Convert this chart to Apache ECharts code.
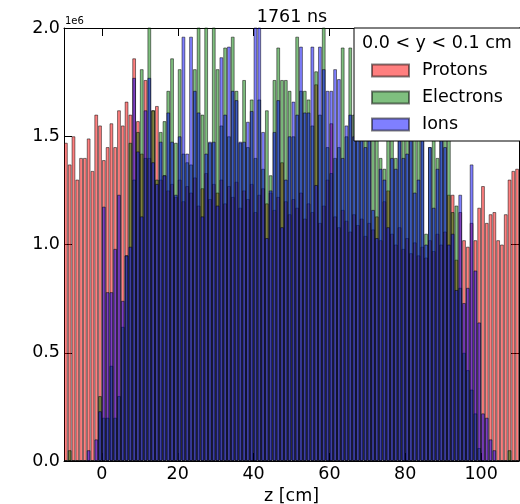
<!DOCTYPE html>
<html><head><meta charset="utf-8">
<script src="https://cdn.jsdelivr.net/npm/echarts@6/dist/echarts.min.js"></script>
<style>html,body{margin:0;padding:0;background:#fff}#c{width:520px;height:504px}</style>
</head><body><div id="c"></div>
<script>
// Histogram bins: 1 cm wide, from -10 to 110 cm (values in units of 1e6)
const binStart = -10, binWidth = 1, binCount = 120;
const xTicks = [0, 20, 40, 60, 80, 100];
const yTicks = [0, 0.5, 1.0, 1.5, 2.0];
const seriesNames = ['Protons', 'Electrons', 'Ions'];

const protons = [
 1.47,1.37,1.50,1.30,1.40,1.40,1.49,1.34,1.60,1.55,
 1.39,1.45,1.56,1.45,1.62,1.55,1.66,1.60,1.86,1.57,
 1.42,1.76,1.40,1.62,1.64,1.30,1.32,1.25,1.28,1.22,
 1.30,1.20,1.27,1.24,1.31,1.18,1.26,1.33,1.21,1.28,
 1.24,1.30,1.19,1.27,1.22,1.29,1.17,1.25,1.21,1.28,
 1.15,1.23,1.26,1.19,1.24,1.16,1.22,1.38,1.20,1.14,
 1.21,1.17,1.24,1.12,1.19,1.15,1.74,1.10,1.18,1.30,
 1.56,1.13,1.08,1.16,1.11,1.06,1.14,1.09,1.12,1.04,
 1.10,1.07,1.13,1.02,1.20,1.25,1.05,1.00,1.08,0.98,
 1.03,0.96,1.01,0.95,0.99,0.94,1.02,0.97,1.05,1.00,
 1.06,1.23,1.23,0.93,1.15,1.02,0.99,1.10,1.02,1.17,
 1.27,1.10,1.14,1.15,1.02,1.00,1.14,1.30,1.34,1.35
];
const electrons = [
 0,0.05,0,0,0,0,0,0,0,0.30,
 0.20,0.20,0.44,0.20,0.30,0.62,0.95,1.47,1.30,1.52,
 1.81,1.40,2.05,1.62,1.30,1.52,1.57,1.71,1.86,1.47,
 1.81,1.42,1.38,1.37,1.81,2.05,1.60,2.05,1.47,2.05,
 1.81,1.55,1.91,1.50,1.96,1.71,1.47,1.76,1.45,1.67,
 1.40,1.67,1.35,1.62,1.32,1.76,1.91,1.76,1.76,1.71,
 1.50,1.96,1.71,1.71,1.67,1.55,1.80,1.60,2.05,1.45,
 1.33,1.40,1.45,1.91,1.50,1.91,1.60,1.70,1.55,1.65,
 1.55,1.60,1.52,1.40,1.35,1.55,1.50,1.40,1.65,1.60,
 1.75,1.62,1.70,1.55,1.50,1.05,1.45,1.70,1.40,1.60,
 1.55,1.65,1.15,1.18,0.80,0.50,0.42,0.33,0.22,0.06,
 0,0,0,0,0,0,0,0.05,0,0
];
const ions = [
 0,0,0,0,0,0,0.05,0,0.10,0.23,
 1.175,0.78,0.78,0.98,1.23,0.74,0.95,0.99,1.77,1.43,
 1.13,1.62,1.77,1.38,1.28,1.475,1.32,1.61,1.475,1.23,
 1.50,1.96,1.42,1.96,1.71,1.61,1.13,1.42,1.475,1.475,
 1.18,1.865,1.60,1.914,1.71,1.667,1.475,1.475,1.567,1.617,
 2.05,2.05,1.52,1.03,1.25,1.52,1.667,1.08,1.30,1.50,
 1.66,1.60,1.914,1.61,1.61,1.914,1.275,1.914,1.81,1.71,
 1.71,1.81,1.764,1.40,1.55,1.60,1.50,1.60,1.55,1.45,
 1.50,1.16,1.03,1.35,1.30,1.08,1.40,1.35,1.55,1.40,
 1.42,1.50,1.24,1.30,1.55,1.00,1.45,1.17,1.35,1.60,
 1.45,1.00,1.05,0.79,1.23,0.73,0.80,1.37,0.88,0.64,
 0.22,0.20,0.10,0.05,0,0,0,0,0,0
];

const categories = [];
for (let i = 0; i < binCount; i++) categories.push(binStart + binWidth * (i + 0.5));

const FONT = 'DejaVu Sans';
const black = '#000';
const colors = ['rgba(255,0,0,0.5)', 'rgba(0,128,0,0.5)', 'rgba(0,0,255,0.5)'];
const dataSets = [protons, electrons, ions];

const chart = echarts.init(document.getElementById('c'), null, {renderer: 'canvas'});
const valueX = (pos, labels) => ({
  type: 'value', min: binStart, max: binStart + binWidth * binCount, position: pos,
  axisLine: {show: true, onZero: false, lineStyle: {color: black, width: 1}},
  axisTick: {show: true, inside: true, length: 8, customValues: xTicks, lineStyle: {color: black, width: 1}},
  axisLabel: {show: labels, customValues: xTicks, color: black, fontSize: 17.5, fontFamily: FONT, margin: 4},
  splitLine: {show: false},
  name: labels ? 'z [cm]' : '', nameLocation: 'middle', nameGap: 24,
  nameTextStyle: {color: black, fontSize: 17.5, fontFamily: FONT}
});
const valueY = (pos, labels) => ({
  type: 'value', min: yTicks[0], max: yTicks[yTicks.length - 1], interval: 0.5, position: pos,
  axisLine: {show: true, onZero: false, lineStyle: {color: black, width: 1}},
  axisTick: {show: true, inside: true, length: 8, lineStyle: {color: black, width: 1}},
  axisLabel: {show: labels, color: black, fontSize: 17.5, fontFamily: FONT, margin: 4,
              formatter: v => v.toFixed(1)},
  splitLine: {show: false}
});

chart.setOption({
  animation: false,
  backgroundColor: '#fff',
  grid: {left: 64, top: 28, right: 1, bottom: 43, containLabel: false, outerBoundsMode: 'none'},
  xAxis: [
    {type: 'category', data: categories, boundaryGap: true, show: false, position: 'top'},
    valueX('bottom', true),
    valueX('top', false)
  ],
  yAxis: [valueY('left', true), valueY('right', false)],
  legend: {
    orient: 'vertical', left: 354, top: 28,
    padding: [33, 40, 7, 17], itemWidth: 37, itemHeight: 12, itemGap: 8,
    backgroundColor: '#fff', borderColor: black, borderWidth: 1, borderRadius: 0,
    icon: 'rect', selectedMode: false, z: 10,
    textStyle: {color: black, fontSize: 17.5, fontFamily: FONT, lineHeight: 19, padding: [0, 0, 0, 8]},
    data: seriesNames
  },
  graphic: [
    {type: 'text', x: 292, y: 17, z: 100, style: {text: '1761 ns', fill: black, font: '17.5px "DejaVu Sans"', align: 'center', verticalAlign: 'middle'}},
    {type: 'text', x: 362, y: 43, z: 100, style: {text: '0.0 < y < 0.1 cm', fill: black, font: '17.5px "DejaVu Sans"', align: 'left', verticalAlign: 'middle'}},
    {type: 'text', x: 65, y: 21, z: 100, style: {text: '1e6', fill: black, font: '10px "DejaVu Sans"', align: 'left', verticalAlign: 'middle'}}
  ],
  series: seriesNames.map((name, k) => ({
    name, type: 'bar', xAxisIndex: 0, yAxisIndex: 0, data: dataSets[k],
    barWidth: '100%', barGap: '-100%', barCategoryGap: 0, clip: true,
    itemStyle: {color: colors[k], borderColor: 'rgba(0,0,0,0.5)', borderWidth: 1},
    emphasis: {disabled: true}
  }))
});
</script></body></html>
